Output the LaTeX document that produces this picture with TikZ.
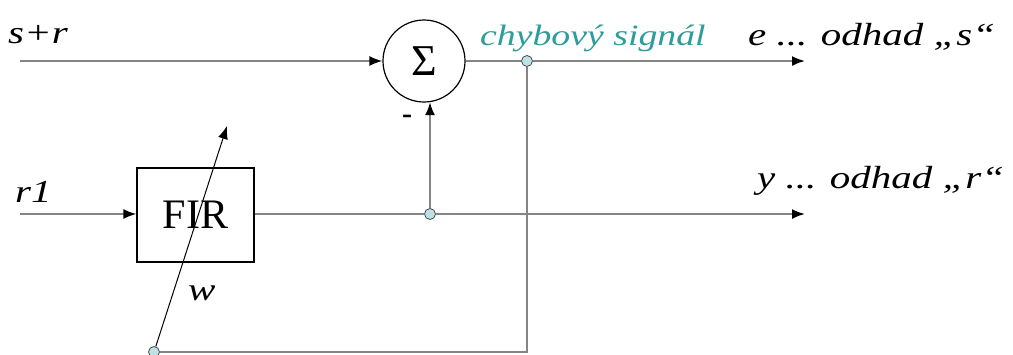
\documentclass[tikz,border=0pt]{standalone}
\usepackage{fontspec}
\setmainfont{Liberation Serif}
\newfontfamily\widefont[FakeStretch=1.28]{Liberation Serif}
\usetikzlibrary{arrows.meta}
\definecolor{wire}{HTML}{858585}
\definecolor{dotfill}{HTML}{BCE2E5}
\definecolor{tealtext}{HTML}{2E9C9C}
\tikzset{
  wireline/.style={draw=wire, line width=1.8pt},
  sig/.style={wireline, -{Latex[length=13pt,width=10pt,color=black]}},
  junction/.style={circle, draw=black!70, fill=dotfill, line width=0.8pt, minimum size=11pt, inner sep=0pt},
  block/.style={draw=black, line width=1.2pt, minimum width=117pt, minimum height=94pt, inner sep=0pt},
  summer/.style={circle, draw=black, line width=1.2pt, minimum size=82pt, inner sep=0pt},
  lbl/.style={font=\widefont\fontsize{32}{36}\selectfont\itshape, inner sep=0pt, anchor=base west},
  adapt/.style={draw=black, line width=1pt, -{Latex[length=13pt,width=10pt]}}
}
\begin{document}
\begin{tikzpicture}[x=1pt,y=-1pt]
\useasboundingbox (0,0) rectangle (1013,354);
% blocks
\node[summer] (sum) at (424,61) {\fontsize{44}{48}\selectfont Σ};
\node[block] (fir) at (195.5,215) {\fontsize{42}{46}\selectfont FIR};
% junctions
\node[junction] (je) at (527,61) {};
\node[junction] (jy) at (430,214) {};
\node[junction] (jw) at (154,352) {};
% free ends
\coordinate (inSR) at (20,61);
\coordinate (inR) at (20,214);
\coordinate (outE) at (805,61);
\coordinate (outY) at (805,214);
\coordinate (fb) at (527,352);
\coordinate (wtip) at (227,126);
% signal paths
\draw[sig] (inSR) -- (sum.west |- inSR);
\draw[sig] (inR) -- (fir.west |- inR);
\draw[wireline] (sum.east |- je) -- (je);
\draw[sig] (je) -- (outE);
\draw[wireline] (fir.east |- jy) -- (jy);
\draw[sig] (jy) -- (outY);
\draw[sig] (jy) -- (jy |- sum.-82);
\draw[wireline] (je) -- (fb) -- (jw);
% weight adaptation arrow
\draw[adapt] (jw) -- (wtip);
% labels
\node[lbl] at (8,43) {s+r};
\node[lbl] at (15,202) {r1};
\node[lbl] at (188,300) {w};
\node[lbl, text=tealtext, font=\widefont\fontsize{29.5}{34}\selectfont\itshape] at (480,45) {chybový signál};
\node[lbl] at (748,45) {e ... odhad „s“};
\node[lbl] at (757,188) {y ... odhad „r“};
\node[font=\fontsize{30}{34}\selectfont\bfseries, inner sep=0pt] at (407,119) {-};
\end{tikzpicture}
\end{document}
